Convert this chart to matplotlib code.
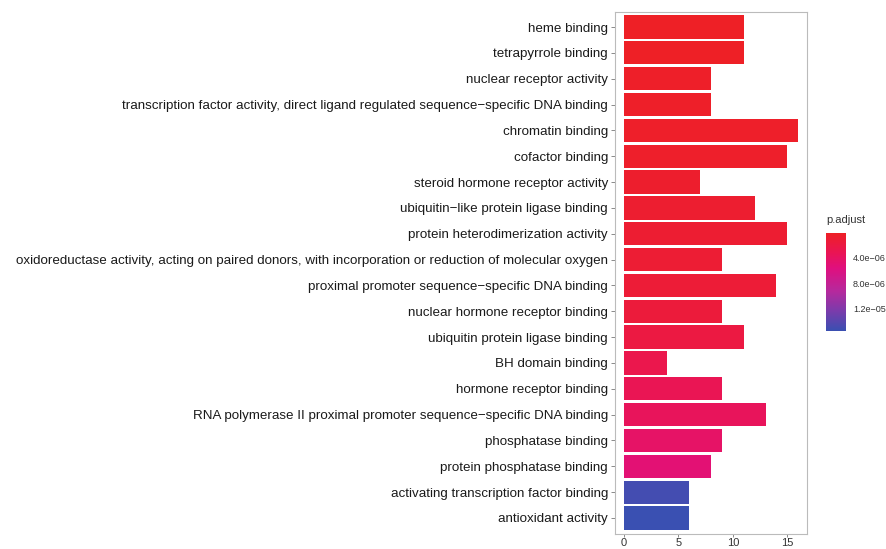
import numpy as np
import matplotlib
matplotlib.use("Agg")
import matplotlib.pyplot as plt
from matplotlib.colors import LinearSegmentedColormap, Normalize

plt.rcParams['font.family'] = ['Liberation Sans', 'DejaVu Sans']

terms = [
    "heme binding",
    "tetrapyrrole binding",
    "nuclear receptor activity",
    "transcription factor activity, direct ligand regulated sequence\u2212specific DNA binding",
    "chromatin binding",
    "cofactor binding",
    "steroid hormone receptor activity",
    "ubiquitin\u2212like protein ligase binding",
    "protein heterodimerization activity",
    "oxidoreductase activity, acting on paired donors, with incorporation or reduction of molecular oxygen",
    "proximal promoter sequence\u2212specific DNA binding",
    "nuclear hormone receptor binding",
    "ubiquitin protein ligase binding",
    "BH domain binding",
    "hormone receptor binding",
    "RNA polymerase II proximal promoter sequence\u2212specific DNA binding",
    "phosphatase binding",
    "protein phosphatase binding",
    "activating transcription factor binding",
    "antioxidant activity",
]
counts = [11, 11, 8, 8, 16, 15, 7, 12, 15, 9, 14, 9, 11, 4, 9, 13, 9, 8, 6, 6]
p_adjust = [1.0e-7, 1.0e-7, 3.0e-7, 3.0e-7, 4.0e-7, 5.0e-7, 6.0e-7, 8.0e-7,
            9.0e-7, 1.1e-6, 1.3e-6, 1.5e-6, 2.0e-6, 2.7e-6, 3.2e-6, 3.6e-6,
            4.2e-6, 5.0e-6, 1.50e-5, 1.55e-5]
cbar_ticks = [4.0e-6, 8.0e-6, 1.2e-5]
cbar_ticklabels = ["4.0e\u221206", "8.0e\u221206", "1.2e\u221205"]
x_ticks = [0, 5, 10, 15]

cmap = LinearSegmentedColormap.from_list(
    "red_blue",
    [(0.0, "#EE2026"), (0.20, "#EA1554"), (0.36, "#E0107F"),
     (0.60, "#B52A9E"), (0.80, "#7A3CAC"), (1.0, "#3A50B2")])
norm = Normalize(vmin=min(p_adjust), vmax=max(p_adjust))

W, H = 886, 549
fig = plt.figure(figsize=(W / 100, H / 100), dpi=100)
fig.patch.set_facecolor("white")

ax = fig.add_axes([615 / W, (H - 533.5) / H, (807 - 615) / W, (533.5 - 11.5) / H])
n = len(terms)
ypos = np.arange(n)[::-1]
ax.barh(ypos, counts, height=0.9, color=cmap(norm(np.array(p_adjust))),
        edgecolor="none")
ax.set_ylim(-0.6, n - 1 + 0.6)
ax.set_xlim(-0.8, 16.8)
ax.set_yticks(ypos)
ax.set_yticklabels(terms, fontsize=9.6, color="#1a1a1a")
ax.set_xticks(x_ticks)
ax.set_xticklabels([str(t) for t in x_ticks], fontsize=8, color="#333333")
ax.tick_params(axis="y", length=3, width=0.6, color="#777777", pad=2)
ax.tick_params(axis="x", length=2.5, width=0.6, color="#777777", pad=0.5)
for s in ax.spines.values():
    s.set_color("#bbbbbb")
    s.set_linewidth(0.8)

cax = fig.add_axes([826 / W, (H - 331) / H, 20 / W, 98 / H])
grad = np.linspace(norm.vmin, norm.vmax, 256).reshape(-1, 1)
cax.imshow(grad, aspect="auto", cmap=cmap, norm=norm, origin="upper",
           extent=[0, 1, norm.vmax, norm.vmin])
cax.set_xticks([])
cax.yaxis.tick_right()
cax.set_yticks(cbar_ticks)
cax.set_yticklabels(cbar_ticklabels, fontsize=6.5, color="#333333")
cax.tick_params(axis="y", length=0, pad=5)
for s in cax.spines.values():
    s.set_visible(False)
fig.text(826 / W, (H - 220) / H, "p.adjust", fontsize=8, color="#333333",
         ha="left", va="center")

fig.savefig("out.png", dpi=100, facecolor="white")
